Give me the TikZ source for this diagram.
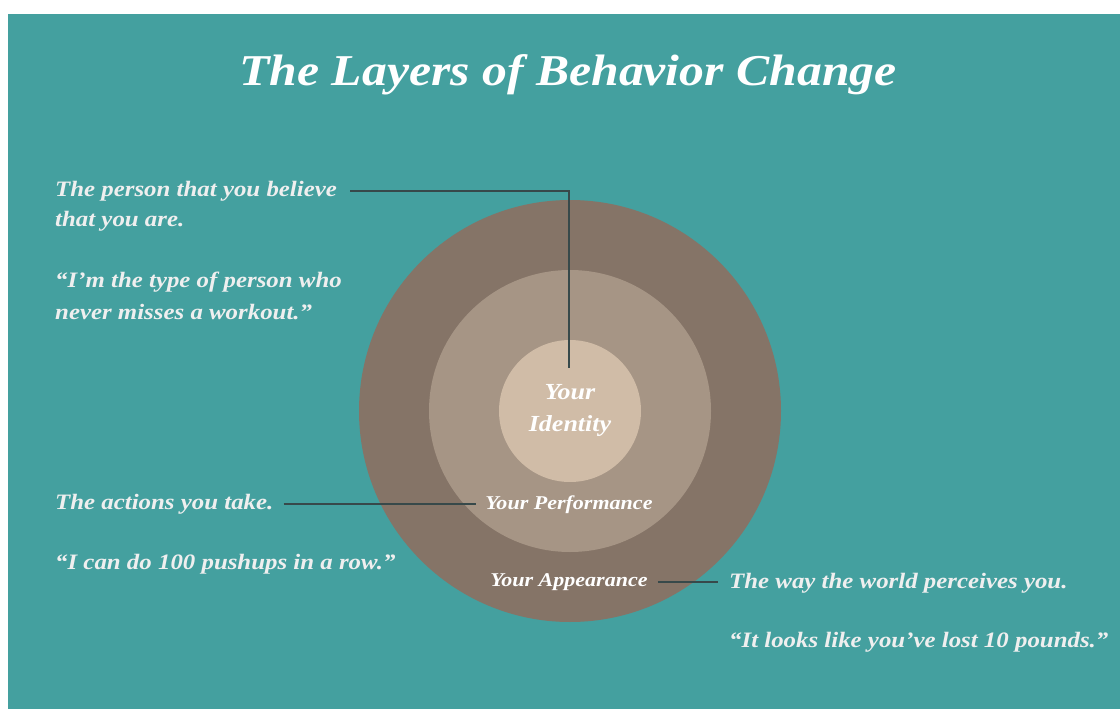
\documentclass[tikz,border=0pt]{standalone}
\usepackage{fontspec}
\setmainfont{Liberation Serif}[FakeStretch=1.13]
\usepackage{tikz}
\usetikzlibrary{positioning}

\definecolor{tealbg}{HTML}{44A09F}
\definecolor{outerring}{HTML}{857467}
\definecolor{middlering}{HTML}{A69585}
\definecolor{innerring}{HTML}{D0BCA7}
\definecolor{leadcol}{HTML}{37494A}
\definecolor{txt}{HTML}{EFEFEF}

\begin{document}
\begin{tikzpicture}[x=1pt, y=-1pt,
  ring/.style={circle, inner sep=0pt, draw=none},
  note/.style={text=txt, font=\bfseries\itshape\fontsize{22}{30}\selectfont,
    align=left, inner sep=0pt, anchor=west},
  tag/.style={text=white, font=\bfseries\itshape\fontsize{19.5}{22}\selectfont, inner sep=0pt},
  lead/.style={draw=leadcol, line width=1.2pt}]
  \useasboundingbox (0,0) rectangle (1120,709);
  \fill[white] (0,0) rectangle (1120,709);
  \fill[tealbg] (8,14) rectangle (1120,709);

  % title
  \node [text=white, font=\bfseries\itshape\fontsize{44}{50}\selectfont] (title) at (568,75)
    {The Layers of Behavior Change};

  % the three layers
  \node [ring, fill=outerring, minimum size=422pt] (outer) at (570,411) {};
  \node [ring, fill=middlering, minimum size=282pt] (middle) at (570,411) {};
  \node [ring, fill=innerring, minimum size=142pt] (inner) at (570,411) {};

  \node [text=white, align=center, inner sep=0pt,
    font=\bfseries\itshape\fontsize{23}{32}\selectfont] (identity) at (570,410) {Your\\Identity};
  \node [tag] (performance) at (569,505) {Your Performance};
  \node [tag] (appearance) at (569,582) {Your Appearance};

  % notes
  \node [note] (believe) at (55,191) {The person that you believe};
  \node [note] (youare) at (55,221) {that you are.};
  \node [note] (typeof) at (55,282) {“I’m the type of person who};
  \node [note] (workout) at (55,312) {never misses a workout.”};
  \node [note] (actions) at (55,504) {The actions you take.};
  \node [note] (pushups) at (55,564) {“I can do 100 pushups in a row.”};
  \node [note] (world) at (729,583) {The way the world perceives you.};
  \node [note] (pounds) at (729,642) {“It looks like you’ve lost 10 pounds.”};

  % leads
  \coordinate (idtop) at (569,368);
  \draw [lead] ([xshift=13pt]believe.east) -| (idtop);
  \draw [lead] ([xshift=10pt]actions.east) -- ([xshift=-9pt]actions.east -| performance.west);
  \draw [lead] ([xshift=10pt]appearance.east) -- ([xshift=-11pt]appearance.east -| world.west);
\end{tikzpicture}
\end{document}
